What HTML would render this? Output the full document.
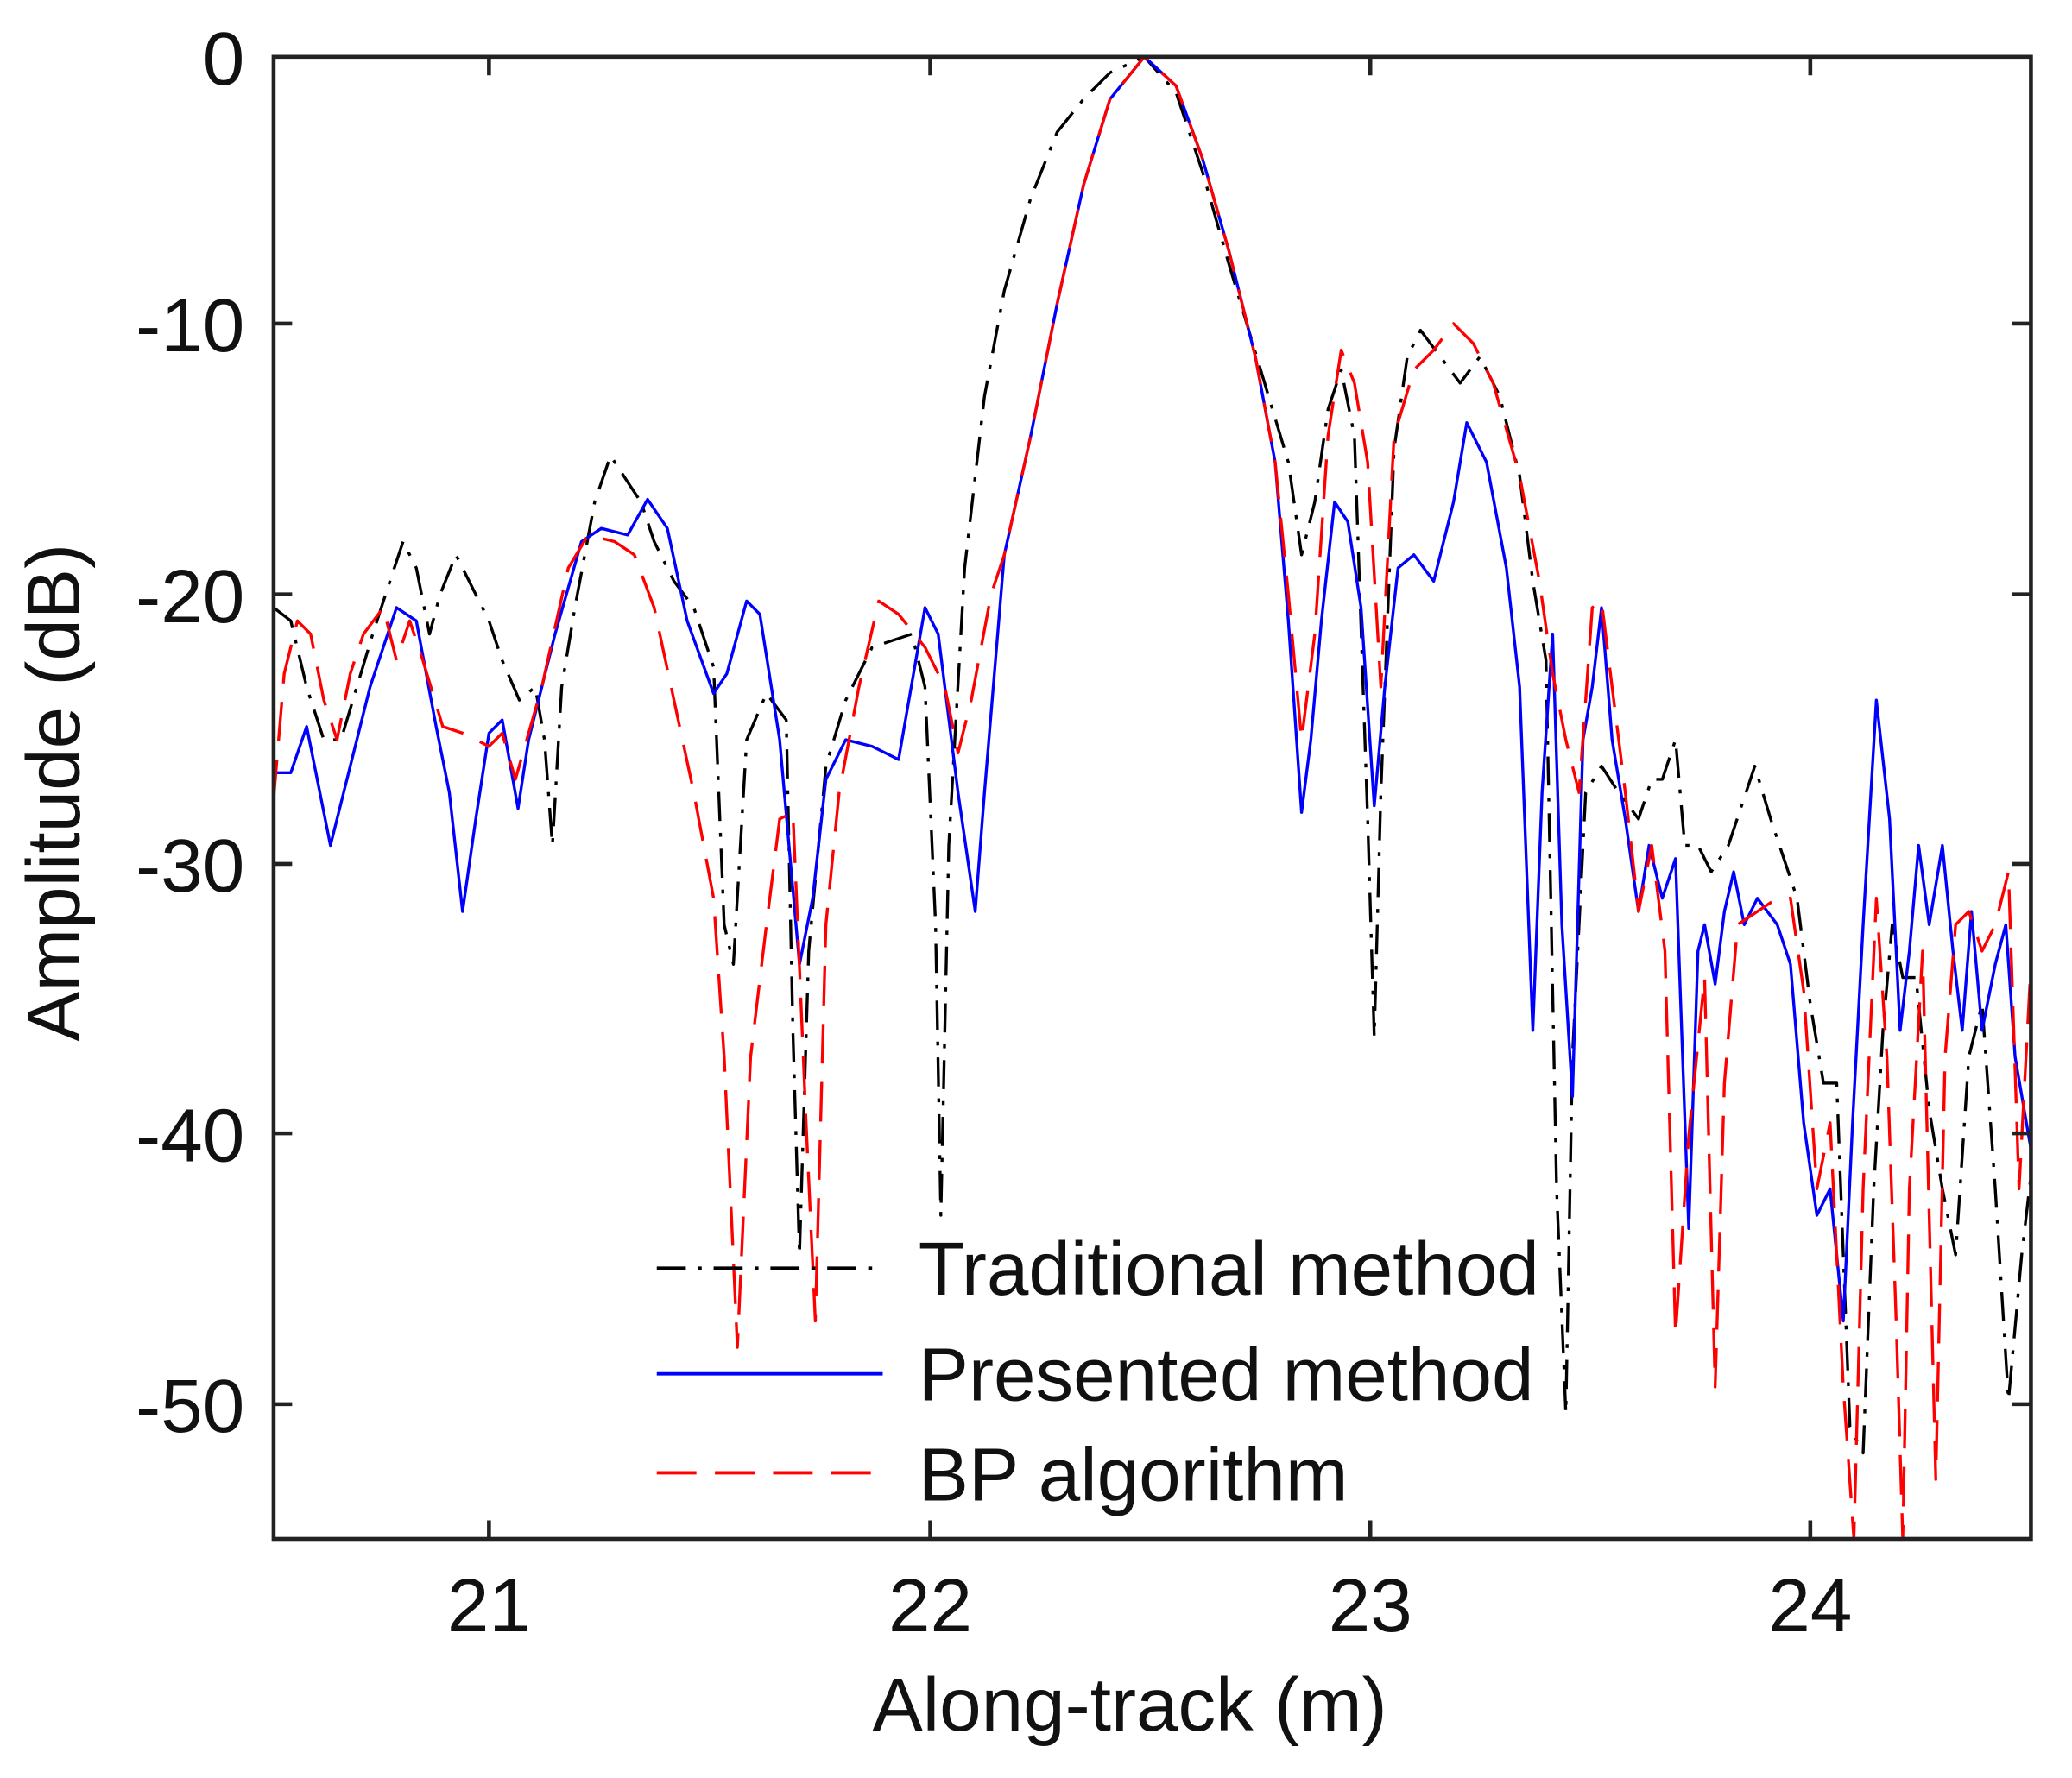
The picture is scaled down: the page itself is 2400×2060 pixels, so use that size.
<!DOCTYPE html>
<html><head><meta charset="utf-8"><style>html,body{margin:0;padding:0;background:#fff}svg{display:block}</style></head>
<body>
<svg width="2400" height="2060" viewBox="0 0 1568 1346" xmlns="http://www.w3.org/2000/svg" font-family="Liberation Sans, Arial, sans-serif">
<rect width="1568" height="1346" fill="#fff"/>
<defs><clipPath id="c"><rect x="207" y="43" width="1330" height="1122"/></clipPath></defs>
<g clip-path="url(#c)" fill="none" stroke-width="2.2" stroke-linejoin="round">
<polyline stroke="#000" stroke-dasharray="22,9,3,9" points="207,460 220,470 232,520 245,560 258,560 270,520 282,480 295,440 305,410 315,430 325,480 333,450 345,420 360,450 370,470 380,500 393,530 405,520 412,560 418,640 425,520 435,460 450,380 462,345 475,365 485,380 495,410 510,440 525,460 540,505 548,700 555,730 565,560 580,525 595,545 600,780 605,950 612,720 625,580 640,530 660,490 690,480 700,520 708,700 712,920 718,640 730,430 745,300 760,220 780,150 800,100 820,75 840,55 866,43 890,70 910,130 930,200 945,250 960,300 975,350 985,420 995,380 1005,310 1015,280 1025,330 1035,620 1040,785 1045,600 1055,340 1065,270 1075,250 1090,270 1105,290 1120,270 1135,300 1150,360 1160,440 1170,500 1178,900 1185,1070 1190,800 1200,600 1212,580 1225,600 1240,620 1250,590 1258,590 1268,560 1275,640 1285,640 1295,660 1308,640 1318,610 1328,580 1340,620 1350,650 1360,680 1370,760 1380,820 1390,820 1400,1080 1410,1100 1418,900 1425,780 1432,700 1440,740 1450,740 1460,840 1470,900 1480,950 1490,800 1500,760 1510,900 1520,1060 1530,950 1537,890"/>
<polyline stroke="#0000ff" points="207,585 220,585 232,550 250,640 265,580 280,520 300,460 315,470 330,550 340,600 350,690 360,620 370,555 380,545 392,612 400,560 420,480 440,410 455,400 475,405 490,378 505,400 520,470 540,525 550,510 565,455 575,465 590,560 605,730 615,680 625,590 640,560 660,565 680,575 700,460 710,480 725,600 738,690 745,600 760,420 780,330 800,230 820,140 840,75 866,43 890,65 910,120 930,190 950,270 965,350 975,470 985,615 992,560 1000,470 1010,380 1020,395 1030,460 1040,610 1048,520 1058,430 1070,420 1085,440 1100,380 1110,320 1125,350 1140,430 1150,520 1160,780 1167,600 1175,480 1182,700 1190,830 1198,560 1205,520 1212,460 1220,560 1230,620 1240,690 1248,640 1258,680 1268,650 1278,930 1285,720 1290,700 1298,745 1305,690 1312,660 1320,700 1330,680 1345,700 1355,730 1365,850 1375,920 1385,900 1395,1000 1402,850 1410,700 1420,530 1430,620 1438,780 1445,720 1452,640 1460,700 1470,640 1478,720 1485,780 1492,690 1500,780 1510,730 1518,700 1525,800 1537,870"/>
<polyline stroke="#ff0000" stroke-dasharray="30,14" points="207,605 215,510 225,470 235,480 245,530 255,560 265,510 275,480 290,460 300,500 310,470 320,500 335,550 350,555 360,560 370,565 380,555 390,590 410,520 430,430 445,405 465,410 480,420 495,460 510,530 525,600 540,680 548,800 558,1020 568,800 580,700 590,620 600,615 610,850 617,1000 625,700 635,600 650,520 665,455 680,465 700,490 715,520 725,570 735,530 750,450 760,420 780,330 800,230 820,140 840,75 866,43 890,65 910,120 930,190 950,270 965,350 975,450 985,560 995,480 1005,330 1015,265 1025,290 1035,350 1045,520 1055,330 1070,280 1085,265 1100,245 1115,260 1130,290 1150,360 1165,440 1175,510 1185,560 1195,600 1205,460 1212,455 1220,520 1230,600 1240,690 1250,640 1260,720 1268,1010 1278,860 1290,740 1298,1050 1305,820 1315,700 1330,690 1345,680 1355,680 1365,750 1375,900 1385,850 1395,1050 1403,1165 1410,900 1420,680 1428,800 1435,1000 1440,1165 1445,900 1455,720 1465,1120 1472,800 1480,700 1490,690 1500,720 1510,700 1520,660 1528,900 1537,730"/>
</g>
<g stroke="#222" stroke-width="3" fill="none">
<rect x="207" y="43" width="1330" height="1122"/>
<path d="M370,43v14M704,43v14M1037,43v14M1370,43v14M370,1165v-14M704,1165v-14M1037,1165v-14M1370,1165v-14M207,245h14M207,450h14M207,654h14M207,858h14M207,1063h14M1537,245h-14M1537,450h-14M1537,654h-14M1537,858h-14M1537,1063h-14"/>
</g>
<g font-size="57" fill="#111" text-anchor="end">
<text x="185" y="64">0</text><text x="185" y="266">-10</text><text x="185" y="471">-20</text><text x="185" y="675">-30</text><text x="185" y="879">-40</text><text x="185" y="1084">-50</text>
</g>
<g font-size="57" fill="#111" text-anchor="middle">
<text x="370" y="1235">21</text><text x="704" y="1235">22</text><text x="1037" y="1235">23</text><text x="1370" y="1235">24</text>
<text x="855" y="1310">Along-track (m)</text>
<text transform="translate(60,600) rotate(-90)">Amplitude (dB)</text>
</g>
<g stroke-width="2.5">
<line x1="497" y1="960" x2="668" y2="960" stroke="#000" stroke-dasharray="22,9,3,9"/>
<line x1="497" y1="1040" x2="668" y2="1040" stroke="#0000ff"/>
<line x1="497" y1="1115" x2="668" y2="1115" stroke="#ff0000" stroke-dasharray="30,14"/>
</g>
<g font-size="57" fill="#111">
<text x="695" y="980">Traditional method</text>
<text x="695" y="1060">Presented method</text>
<text x="695" y="1136">BP algorithm</text>
</g>
</svg>
</body></html>
